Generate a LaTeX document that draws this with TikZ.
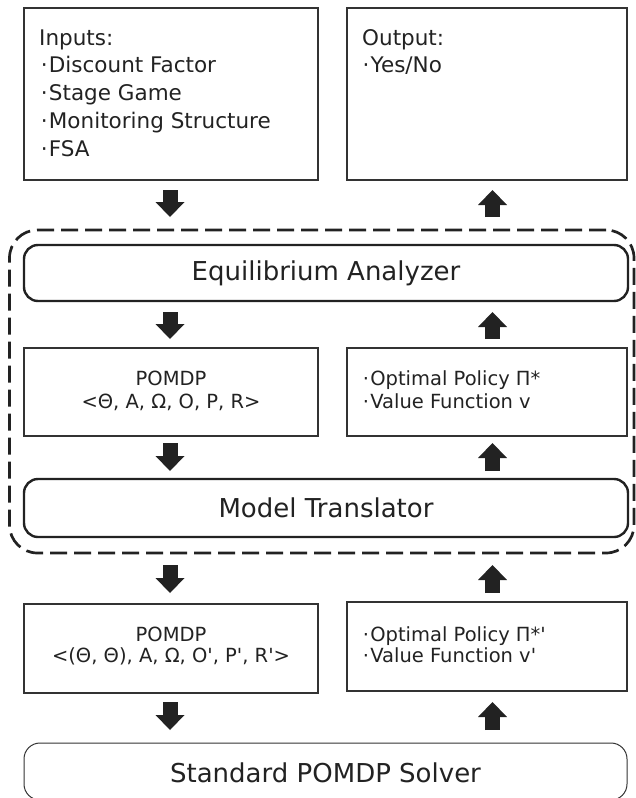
\documentclass[tikz,border=0pt]{standalone}
\usepackage{fontspec}
\setmainfont{DejaVu Sans}
\newfontfamily\djv{DejaVu Sans}
\usetikzlibrary{arrows.meta}
\definecolor{ink}{HTML}{222222}
\definecolor{edgec}{HTML}{333333}
\newcommand\bl{\hspace{0.09em}·\hspace{0.06em}}
\begin{document}
\begin{tikzpicture}[x=1pt,y=-1pt,
  plainbox/.style={draw=edgec, line width=1.2pt, inner sep=0pt, outer sep=0pt},
  modbox/.style={draw=ink, line width=2.4pt, rounded corners=14pt, inner sep=0pt, outer sep=0pt},
  solvbox/.style={draw=edgec, line width=1pt, rounded corners=16pt, inner sep=0pt, outer sep=0pt},
  groupbox/.style={draw=ink, line width=2.7pt, dash pattern=on 17pt off 7pt, rounded corners=28pt, inner sep=0pt, outer sep=0pt},
  bigtxt/.style={font=\djv\fontsize{26}{30}\selectfont, text=ink, inner sep=0pt, anchor=base},
  toptxt/.style={font=\djv\fontsize{21.5}{26}\selectfont, text=ink, inner sep=0pt, anchor=base west},
  midtxt/.style={font=\djv\fontsize{19.5}{23}\selectfont, text=ink, inner sep=0pt},
  blk/.style={line width=15pt, draw=ink, -{Triangle[width=29pt,length=15pt,line width=0pt]}}
]
\useasboundingbox (0,0) rectangle (636,798);
\clip (0,0) rectangle (636,798);

\coordinate (axL) at (170,0);
\coordinate (axR) at (492.5,0);

% group
\node[groupbox, minimum width=624.5pt, minimum height=323pt] (group) at (321.75,391.5) {};

% boxes
\node[plainbox, minimum width=294pt, minimum height=172pt] (inputs) at (171,94) {};
\node[plainbox, minimum width=280pt, minimum height=172pt] (output) at (487,94) {};
\node[modbox, minimum width=604pt, minimum height=56pt] (ea) at (326,273) {};
\node[plainbox, minimum width=294pt, minimum height=88pt] (pomdpA) at (171,392) {};
\node[plainbox, minimum width=280pt, minimum height=88pt] (polA) at (487,392) {};
\node[modbox, minimum width=604pt, minimum height=58pt] (mt) at (326,508) {};
\node[plainbox, minimum width=294pt, minimum height=89pt] (pomdpB) at (171,648.5) {};
\node[plainbox, minimum width=280pt, minimum height=89pt] (polB) at (487,646.5) {};
\node[solvbox, minimum width=603pt, minimum height=57pt] (solver) at (325.5,771.5) {};

% texts
\node[toptxt] (in0) at (39,45) {Inputs:};
\node[toptxt] (in1) at (38.7,72.7) {\bl Discount Factor};
\node[toptxt] (in2) at (38.7,100.7) {\bl Stage Game};
\node[toptxt] (in3) at (38.7,128.7) {\bl Monitoring Structure};
\node[toptxt] (in4) at (38.7,156.7) {\bl FSA};
\node[toptxt] (out0) at (362,45) {Output:};
\node[toptxt] (out1) at (360.5,72.7) {\bl Yes/No};

\node[bigtxt] (eat) at (326,280) {Equilibrium Analyzer};
\node[bigtxt] (mtt) at (326,517) {Model Translator};
\node[bigtxt] (svt) at (325.5,782) {Standard POMDP Solver};

\node[midtxt, anchor=base] (pa1) at (171,385) {POMDP};
\node[midtxt, anchor=base] (pa2) at (171,408) {<Θ, A, Ω, O, P, R>};
\node[midtxt, anchor=base west] (qa1) at (361,385) {\bl Optimal Policy Π*};
\node[midtxt, anchor=base west] (qa2) at (361,408) {\bl Value Function v};

\node[midtxt, anchor=base] (pb1) at (171,641) {POMDP};
\node[midtxt, anchor=base] (pb2) at (171,662) {<(Θ, Θ), A, Ω, O', P', R'>};
\node[midtxt, anchor=base west] (qb1) at (361,641) {\bl Optimal Policy Π*'};
\node[midtxt, anchor=base west] (qb2) at (361,662) {\bl Value Function v'};

% arrows
\draw[blk, shorten <=10pt, shorten >=28pt] (inputs.south -| axL) -- (ea.north -| axL);
\draw[blk, shorten <=28pt, shorten >=10pt] (ea.north -| axR) -- (output.south -| axR);
\draw[blk, shorten <=11pt, shorten >=9pt] (ea.south -| axL) -- (pomdpA.north -| axL);
\draw[blk, shorten <=9pt, shorten >=11pt] (polA.north -| axR) -- (ea.south -| axR);
\draw[blk, shorten <=7pt, shorten >=8pt] (pomdpA.south -| axL) -- (mt.north -| axL);
\draw[blk, shorten <=8pt, shorten >=7pt] (mt.north -| axR) -- (polA.south -| axR);
\draw[blk, shorten <=28pt, shorten >=11pt] (mt.south -| axL) -- (pomdpB.north -| axL);
\draw[blk, shorten <=9pt, shorten >=28pt] (polB.north -| axR) -- (mt.south -| axR);
\draw[blk, shorten <=9pt, shorten >=13pt] (pomdpB.south -| axL) -- (solver.north -| axL);
\draw[blk, shorten <=13pt, shorten >=11pt] (solver.north -| axR) -- (polB.south -| axR);
\end{tikzpicture}
\end{document}
